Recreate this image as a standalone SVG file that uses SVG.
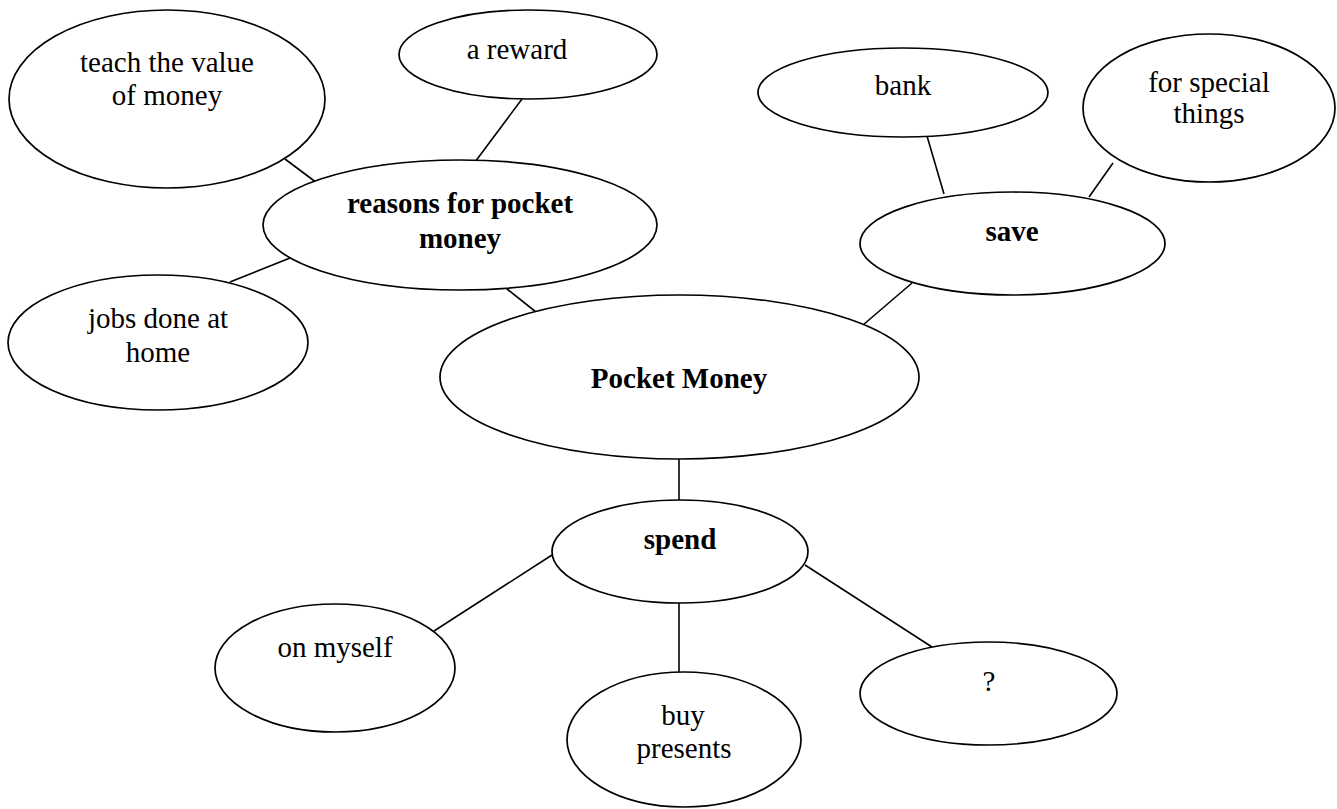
<svg xmlns="http://www.w3.org/2000/svg" width="1337" height="809" viewBox="0 0 1337 809">
<style>
ellipse{fill:#fff;stroke:#000;stroke-width:1.7}
line{stroke:#000;stroke-width:1.6}
text{font-family:"Liberation Serif","Times New Roman",serif;font-size:29px;text-anchor:middle;fill:#000}
.b{font-weight:bold}
</style>
<rect width="1337" height="809" fill="#fff"/>
<g id="connectors">
<line x1="285" y1="159" x2="317" y2="183"/>
<line x1="522" y1="99" x2="475" y2="162"/>
<line x1="230" y1="282" x2="290" y2="258"/>
<line x1="507" y1="289" x2="536" y2="312"/>
<line x1="927" y1="136" x2="944" y2="194"/>
<line x1="1113" y1="163" x2="1089" y2="197"/>
<line x1="912" y1="283" x2="863" y2="325"/>
<line x1="679" y1="458" x2="679" y2="501"/>
<line x1="552" y1="555" x2="434" y2="631"/>
<line x1="679" y1="602" x2="679" y2="673"/>
<line x1="805" y1="565" x2="932" y2="647"/>
</g>
<g id="teach"><ellipse cx="167" cy="99" rx="158" ry="89"/><text x="167" y="72">teach the value</text><text x="167" y="105">of money</text></g>
<g id="reward"><ellipse cx="528" cy="54.5" rx="129" ry="44.5"/><text x="517" y="59">a reward</text></g>
<g id="reasons"><ellipse cx="460" cy="225" rx="197" ry="65"/><text class="b" x="460" y="213">reasons for pocket</text><text class="b" x="460" y="248">money</text></g>
<g id="jobs"><ellipse cx="158" cy="342.5" rx="150" ry="67.5"/><text x="158" y="328">jobs done at</text><text x="158" y="362">home</text></g>
<g id="bank"><ellipse cx="903" cy="92.5" rx="145" ry="44.5"/><text x="903" y="95">bank</text></g>
<g id="special"><ellipse cx="1209" cy="108" rx="126" ry="74"/><text x="1209" y="92">for special</text><text x="1209" y="123">things</text></g>
<g id="save"><ellipse cx="1012.5" cy="243.5" rx="152.5" ry="51.5"/><text class="b" x="1012" y="241">save</text></g>
<g id="pocket"><ellipse cx="679.5" cy="377" rx="239.5" ry="82"/><text class="b" x="679" y="388">Pocket Money</text></g>
<g id="spend"><ellipse cx="680" cy="551.5" rx="128" ry="51.5"/><text class="b" x="680" y="549">spend</text></g>
<g id="myself"><ellipse cx="335" cy="668" rx="120" ry="64"/><text x="335" y="657">on myself</text></g>
<g id="presents"><ellipse cx="684" cy="739.5" rx="117" ry="67.5"/><text x="683" y="725">buy</text><text x="684" y="758">presents</text></g>
<g id="question"><ellipse cx="988.5" cy="693.5" rx="128.5" ry="51.5"/><text x="989" y="691">?</text></g>
</svg>
